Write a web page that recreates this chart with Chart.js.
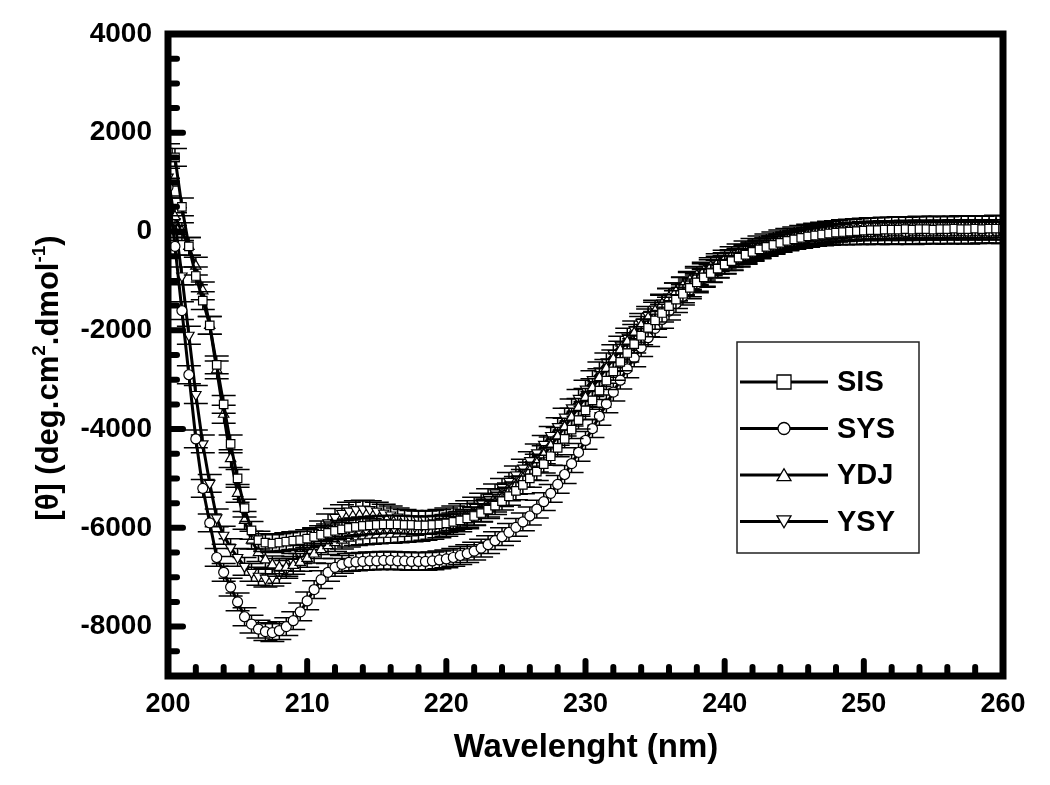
<!DOCTYPE html>
<html>
<head>
<meta charset="utf-8">
<script src="https://cdn.jsdelivr.net/npm/chart.js"></script>
<style>
  html, body { margin: 0; padding: 0; background: #fff; }
  #grafico { display: block; }
</style>
</head>
<body>
<canvas id="grafico" width="1050" height="785"></canvas>
<script>
// wavelengths (nm), 0.5 nm step
const wavelengths = [
  200, 200.5, 201, 201.5, 202, 202.5, 203, 203.5, 204, 204.5, 205, 205.5, 206, 206.5, 207, 207.5, 208, 208.5, 209, 209.5,
  210, 210.5, 211, 211.5, 212, 212.5, 213, 213.5, 214, 214.5, 215, 215.5, 216, 216.5, 217, 217.5, 218, 218.5, 219, 219.5,
  220, 220.5, 221, 221.5, 222, 222.5, 223, 223.5, 224, 224.5, 225, 225.5, 226, 226.5, 227, 227.5, 228, 228.5, 229, 229.5,
  230, 230.5, 231, 231.5, 232, 232.5, 233, 233.5, 234, 234.5, 235, 235.5, 236, 236.5, 237, 237.5, 238, 238.5, 239, 239.5,
  240, 240.5, 241, 241.5, 242, 242.5, 243, 243.5, 244, 244.5, 245, 245.5, 246, 246.5, 247, 247.5, 248, 248.5, 249, 249.5,
  250, 250.5, 251, 251.5, 252, 252.5, 253, 253.5, 254, 254.5, 255, 255.5, 256, 256.5, 257, 257.5, 258, 258.5, 259, 259.5,
  260
];

const sis = [
  1600, 1500, 500, -300, -900, -1400, -1900, -2700, -3500, -4300, -5000, -5600, -6050, -6250, -6300, -6320, -6300, -6280, -6260, -6250,
  -6220, -6180, -6140, -6100, -6060, -6030, -6000, -5980, -5960, -5950, -5940, -5930, -5930, -5930, -5940, -5940, -5950, -5950, -5940, -5930,
  -5910, -5880, -5850, -5810, -5760, -5700, -5630, -5550, -5460, -5360, -5250, -5130, -5000, -4860, -4710, -4550, -4380, -4200, -4010, -3820,
  -3620, -3420, -3220, -3020, -2830, -2640, -2460, -2280, -2110, -1950, -1800, -1650, -1510, -1380, -1260, -1140, -1030, -930, -840, -750,
  -670, -600, -530, -470, -410, -360, -310, -270, -230, -190, -160, -130, -100, -80, -60, -40, -20, -10, 0, 10,
  20, 30, 30, 40, 40, 40, 50, 40, 50, 50, 40, 50, 50, 60, 50, 50, 60, 50, 60, 60,
  60
];

const sys = [
  900, -300, -1600, -2900, -4200, -5200, -5900, -6600, -6900, -7200, -7500, -7800, -7950, -8050, -8100, -8120, -8080, -8000, -7880, -7700,
  -7480, -7250, -7050, -6900, -6800, -6740, -6700, -6690, -6680, -6670, -6670, -6660, -6660, -6670, -6670, -6680, -6680, -6680, -6670, -6650,
  -6630, -6600, -6560, -6520, -6470, -6410, -6340, -6260, -6180, -6090, -5990, -5880, -5760, -5620, -5470, -5300, -5120, -4920, -4700, -4470,
  -4230, -3990, -3740, -3490, -3250, -3010, -2780, -2560, -2350, -2150, -1960, -1780, -1610, -1460, -1310, -1180, -1060, -950, -850, -760,
  -680, -610, -540, -480, -420, -370, -320, -280, -240, -200, -170, -140, -110, -90, -70, -50, -30, -20, -10, 0,
  0, 0, 10, 0, 10, 10, 0, 10, 20, 10, 10, 20, 10, 20, 20, 10, 20, 20, 10, 20,
  20
];

const ydj = [
  500, 300, 0, -300, -700, -1200, -1900, -2800, -3700, -4600, -5300, -5850, -6250, -6500, -6650, -6750, -6800, -6800, -6760, -6700,
  -6620, -6530, -6440, -6360, -6300, -6250, -6210, -6180, -6160, -6150, -6140, -6130, -6130, -6120, -6110, -6100, -6090, -6070, -6050, -6020,
  -5990, -5950, -5900, -5840, -5770, -5690, -5600, -5500, -5390, -5270, -5140, -5000, -4850, -4690, -4520, -4340, -4150, -3960, -3760, -3560,
  -3360, -3160, -2960, -2770, -2580, -2400, -2230, -2060, -1900, -1750, -1610, -1470, -1340, -1220, -1100, -990, -890, -800, -710, -630,
  -560, -490, -430, -370, -320, -270, -230, -190, -150, -120, -90, -60, -30, -10, 10, 30, 40, 60, 70, 80,
  90, 100, 100, 110, 110, 120, 110, 120, 130, 120, 130, 130, 120, 130, 140, 130, 140, 130, 140, 150,
  140
];

const ysy = [
  1100, 200, -900, -2100, -3300, -4300, -5100, -5800, -6150, -6400, -6600, -6780, -6900, -6980, -7020, -7000, -6940, -6840, -6700, -6540,
  -6370, -6200, -6040, -5900, -5790, -5710, -5660, -5630, -5620, -5630, -5660, -5700, -5740, -5780, -5810, -5830, -5840, -5840, -5830, -5810,
  -5780, -5740, -5690, -5630, -5560, -5480, -5390, -5290, -5180, -5060, -4930, -4790, -4640, -4480, -4310, -4130, -3950, -3760, -3570, -3380,
  -3190, -3000, -2820, -2640, -2470, -2300, -2140, -1990, -1840, -1700, -1570, -1450, -1330, -1220, -1110, -1010, -920, -830, -750, -680,
  -610, -550, -490, -440, -390, -350, -310, -270, -240, -210, -180, -160, -140, -120, -110, -100, -90, -90, -80, -80,
  -80, -70, -80, -70, -80, -70, -70, -80, -70, -60, -70, -60, -70, -60, -60, -70, -60, -50, -60, -50,
  -60
];

const seriesNames = ['SIS', 'SYS', 'YDJ', 'YSY'];
const seriesErrors = [180, 180, 180, 180];
const xTicks = [200, 210, 220, 230, 240, 250, 260];
const yTicks = [-8000, -6000, -4000, -2000, 0, 2000, 4000];

const FONT = "'Liberation Sans', Arial, sans-serif";

const estilos = [
  { pointStyle: 'rect', rotation: 0, radius: 6 },
  { pointStyle: 'circle', rotation: 0, radius: 5 },
  { pointStyle: 'triangle', rotation: 0, radius: 6 },
  { pointStyle: 'triangle', rotation: 180, radius: 6 }
];

function desenharMarcador(ctx, estilo, x, y, r) {
  ctx.beginPath();
  if (estilo.pointStyle === 'rect') {
    ctx.rect(x - r, y - r, 2 * r, 2 * r);
  } else if (estilo.pointStyle === 'circle') {
    ctx.arc(x, y, r, 0, Math.PI * 2);
  } else if (estilo.rotation === 180) {
    ctx.moveTo(x - r, y - r * 0.8);
    ctx.lineTo(x + r, y - r * 0.8);
    ctx.lineTo(x, y + r * 0.9);
    ctx.closePath();
  } else {
    ctx.moveTo(x - r, y + r * 0.8);
    ctx.lineTo(x + r, y + r * 0.8);
    ctx.lineTo(x, y - r * 0.9);
    ctx.closePath();
  }
  ctx.fillStyle = '#fff';
  ctx.fill();
  ctx.strokeStyle = '#000';
  ctx.lineWidth = 1.3;
  ctx.stroke();
}

// error bars + frame, inward ticks, legend and axis titles
const extras = {
  id: 'extras',
  beforeDatasetDraw(chart, args) {
    const { ctx, chartArea } = chart;
    const yScale = chart.scales.y;
    const ds = chart.data.datasets[args.index];
    const err = seriesErrors[args.index];
    ctx.save();
    ctx.beginPath();
    ctx.rect(chartArea.left, chartArea.top, chartArea.right - chartArea.left, chartArea.bottom - chartArea.top);
    ctx.clip();
    ctx.strokeStyle = '#000';
    ctx.lineWidth = 1.5;
    args.meta.data.forEach((pt, i) => {
      const v = ds.data[i].y;
      const y1 = yScale.getPixelForValue(v + err);
      const y2 = yScale.getPixelForValue(v - err);
      ctx.beginPath();
      ctx.moveTo(pt.x, y1); ctx.lineTo(pt.x, y2);
      ctx.moveTo(pt.x - 12, y1); ctx.lineTo(pt.x + 12, y1);
      ctx.moveTo(pt.x - 12, y2); ctx.lineTo(pt.x + 12, y2);
      ctx.stroke();
    });
    ctx.restore();
  },
  afterDraw(chart) {
    const { ctx, chartArea } = chart;
    const xs = chart.scales.x, ys = chart.scales.y;
    const { left, right, top, bottom } = chartArea;
    ctx.save();

    // inward ticks
    ctx.strokeStyle = '#000';
    ctx.lineWidth = 6;
    ctx.lineCap = 'round';
    for (let v = 202; v < 260; v += 2) {
      const x = xs.getPixelForValue(v);
      const len = v % 10 === 0 ? 15 : 9;
      ctx.beginPath(); ctx.moveTo(x, bottom); ctx.lineTo(x, bottom - len); ctx.stroke();
    }
    for (let v = -8500; v < 4000; v += 500) {
      const y = ys.getPixelForValue(v);
      const len = v % 2000 === 0 ? 15 : 9;
      ctx.beginPath(); ctx.moveTo(left, y); ctx.lineTo(left + len, y); ctx.stroke();
    }

    // frame
    ctx.lineCap = 'square';
    ctx.lineWidth = 7;
    ctx.strokeRect(left, top, right - left, bottom - top);

    // legend
    const caixa = { x: 737, y: 342, w: 182, h: 211 };
    ctx.lineWidth = 1.5;
    ctx.strokeStyle = '#222';
    ctx.strokeRect(caixa.x, caixa.y, caixa.w, caixa.h);
    ctx.font = 'bold 29px ' + FONT;
    ctx.textBaseline = 'middle';
    ctx.textAlign = 'left';
    seriesNames.forEach((nome, i) => {
      const yy = 382 + i * 46.5;
      ctx.strokeStyle = '#000';
      ctx.lineWidth = 3;
      ctx.lineCap = 'butt';
      ctx.beginPath(); ctx.moveTo(740, yy); ctx.lineTo(828, yy); ctx.stroke();
      desenharMarcador(ctx, estilos[i], 784, yy, estilos[i].pointStyle === 'circle' ? 6 : 7);
      ctx.fillStyle = '#000';
      ctx.fillText(nome, 837, yy + 1);
    });

    // x title
    ctx.font = 'bold 33px ' + FONT;
    ctx.textAlign = 'center';
    ctx.textBaseline = 'middle';
    ctx.fillStyle = '#000';
    ctx.fillText('Wavelenght (nm)', 586, 748);

    // y title with superscripts
    const partes = [
      { t: '[\u03B8] (deg.cm', sup: false },
      { t: '2', sup: true },
      { t: '.dmol', sup: false },
      { t: '-1', sup: true },
      { t: ')', sup: false }
    ];
    const fNormal = 'bold 31px ' + FONT;
    const fSup = 'bold 19px ' + FONT;
    let total = 0;
    partes.forEach(p => { ctx.font = p.sup ? fSup : fNormal; p.w = ctx.measureText(p.t).width; total += p.w; });
    ctx.translate(47, 378);
    ctx.rotate(-Math.PI / 2);
    ctx.textAlign = 'left';
    ctx.textBaseline = 'alphabetic';
    let cx = -total / 2;
    partes.forEach(p => {
      ctx.font = p.sup ? fSup : fNormal;
      ctx.fillText(p.t, cx, p.sup ? -2 : 11);
      cx += p.w;
    });
    ctx.restore();
  }
};

const montar = valores => wavelengths.map((w, i) => ({ x: w, y: valores[i] }));
const dados = [sis, sys, ydj, ysy];

const datasets = dados.map((valores, i) => ({
  label: seriesNames[i],
  data: montar(valores),
  borderColor: '#000',
  borderWidth: 3,
  pointStyle: estilos[i].pointStyle,
  rotation: estilos[i].rotation,
  pointRadius: estilos[i].radius,
  pointBackgroundColor: '#fff',
  pointBorderColor: '#000',
  pointBorderWidth: 1.2,
  tension: 0
}));

new Chart(document.getElementById('grafico').getContext('2d'), {
  type: 'line',
  data: { datasets },
  options: {
    responsive: false,
    animation: false,
    devicePixelRatio: 1,
    layout: { padding: { top: 34, right: 47, left: 0, bottom: 0 } },
    plugins: { legend: { display: false }, tooltip: { enabled: false } },
    scales: {
      x: {
        type: 'linear', min: 200, max: 260,
        grid: { display: false, drawTicks: false },
        border: { display: false },
        afterBuildTicks: s => { s.ticks = xTicks.map(v => ({ value: v })); },
        afterFit: s => { s.height = 109; },
        ticks: { padding: 12, color: '#000', font: { family: FONT, size: 27, weight: 'bold' }, callback: v => String(v), maxRotation: 0 }
      },
      y: {
        type: 'linear', min: -9000, max: 4000,
        grid: { display: false, drawTicks: false },
        border: { display: false },
        afterBuildTicks: s => { s.ticks = yTicks.map(v => ({ value: v })); },
        afterFit: s => { s.width = 168; },
        ticks: { padding: 16, color: '#000', font: { family: FONT, size: 28, weight: 'bold' }, callback: v => String(v) }
      }
    }
  },
  plugins: [extras]
});
</script>
</body>
</html>
